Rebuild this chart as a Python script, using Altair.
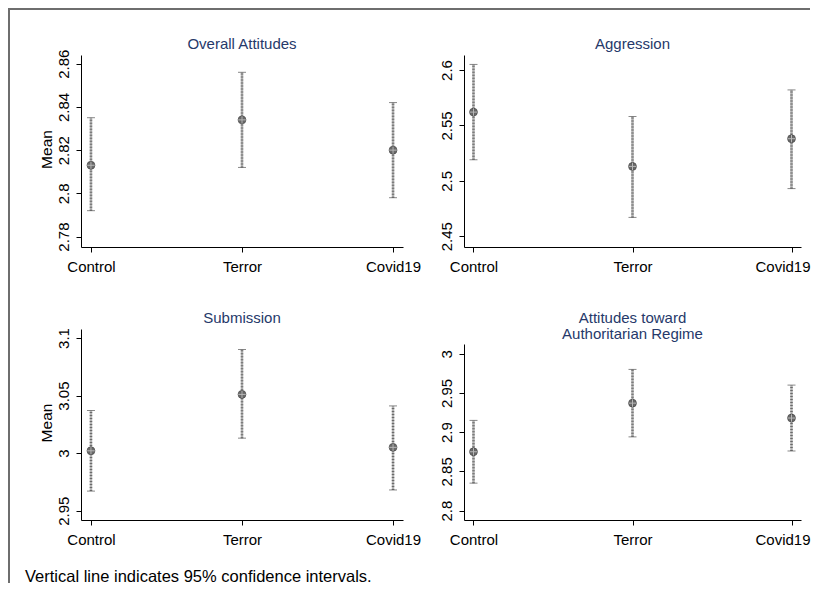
import altair as alt
import pandas as pd

groups = ["Control", "Terror", "Covid19"]

overall_mean = [2.813, 2.834, 2.820]
overall_lo = [2.792, 2.812, 2.798]
overall_hi = [2.835, 2.856, 2.842]

aggression_mean = [2.562, 2.513, 2.538]
aggression_lo = [2.519, 2.467, 2.493]
aggression_hi = [2.605, 2.558, 2.582]

submission_mean = [3.002, 3.051, 3.005]
submission_lo = [2.967, 3.013, 2.968]
submission_hi = [3.037, 3.090, 3.041]

regime_mean = [2.875, 2.937, 2.918]
regime_lo = [2.835, 2.894, 2.876]
regime_hi = [2.915, 2.980, 2.960]

overall_ticks = [2.78, 2.80, 2.82, 2.84, 2.86]
aggression_ticks = [2.45, 2.50, 2.55, 2.60]
submission_ticks = [2.95, 3.00, 3.05, 3.10]
regime_ticks = [2.80, 2.85, 2.90, 2.95, 3.00]

overall_domain = [2.7752, 2.864]
aggression_domain = [2.4403, 2.6135]
submission_domain = [2.9419, 3.1078]
regime_domain = [2.788, 3.0124]

title_overall = ["Overall Attitudes"]
title_aggression = ["Aggression"]
title_submission = ["Submission"]
title_regime = ["Attitudes toward", "Authoritarian Regime"]
note_text = "Vertical line indicates 95% confidence intervals."

FONT = "Liberation Sans"
TITLE_COLOR = "#26396a"
blank = alt.Data(values=[{}])


def title_marks(lines, width, first_y):
    marks = []
    for i, line in enumerate(lines):
        marks.append(
            alt.Chart(blank).mark_text(
                align="center", baseline="middle", fontSize=15, font=FONT,
                color=TITLE_COLOR,
            ).encode(x=alt.value(width / 2), y=alt.value(first_y + 16 * i),
                     text=alt.value(line))
        )
    return marks


def panel(title, mean, lo, hi, ticks, ydomain, width, height, xpad,
          ytitle=None, yrange=None, title_y=-11, last_label_shift=0,
          extra=()):
    df = pd.DataFrame({"group": groups, "mean": mean, "lo": lo, "hi": hi})
    xaxis_kw = dict(labelAngle=0, labelPadding=7, labelBaseline="top")
    if last_label_shift:
        xaxis_kw["labelOffset"] = {
            "condition": {"test": f"datum.value === '{groups[-1]}'",
                          "value": last_label_shift},
            "value": 0,
        }
    xenc = alt.X(
        "group:N",
        sort=groups,
        title=None,
        scale=alt.Scale(type="point", padding=xpad, domain=groups),
        axis=alt.Axis(**xaxis_kw),
    )
    sc = dict(domain=ydomain, nice=False, zero=False)
    if yrange is not None:
        sc["range"] = yrange
    axis_kw = dict(
        values=ticks,
        format="~f",
        labelAngle=270,
        labelAlign="center",
        labelBaseline="bottom",
        labelPadding=5,
        labelOverlap=False,
    )
    if ytitle:
        axis_kw.update(titleAngle=270, titleX=-34.5, titleY=height / 2 - 2,
                       titleBaseline="middle", titleAlign="center",
                       titleFontSize=15.5)
    yaxis = alt.Axis(**axis_kw)
    yscale = alt.Scale(**sc)

    def Y(field):
        return alt.Y(field, scale=yscale, axis=yaxis, title=ytitle)

    base = alt.Chart(df)
    bar_light = base.mark_rule(color="#b4b4b4", strokeWidth=2.5).encode(
        x=xenc, y=Y("lo:Q"), y2="hi:Q")
    bar_dark = base.mark_rule(color="#6a6a6a", strokeWidth=2.5,
                              strokeDash=[1, 2]).encode(
        x=xenc, y=Y("lo:Q"), y2="hi:Q")
    cap_lo = base.mark_tick(color="#555555", size=8, thickness=1).encode(
        x=xenc, y=Y("lo:Q"))
    cap_hi = base.mark_tick(color="#555555", size=8, thickness=1).encode(
        x=xenc, y=Y("hi:Q"))
    dot = base.mark_point(shape="circle", filled=True, size=62,
                          color="#5c5c5c", opacity=0.9, stroke="#363636",
                          strokeWidth=0.7).encode(x=xenc, y=Y("mean:Q"))
    cross = base.mark_point(shape="M-1,0H1M0,-1V1", filled=False, size=55,
                            color="#b8b8b8", strokeWidth=1,
                            opacity=1).encode(x=xenc, y=Y("mean:Q"))
    layers = ([bar_light, bar_dark, cap_lo, cap_hi, dot, cross]
              + title_marks(title, width, title_y) + list(extra))
    return alt.layer(*layers).properties(width=width, height=height)


frame_v = alt.Chart(blank).mark_rect(color="#6e6e6e").encode(
    x=alt.value(-73), x2=alt.value(-71), y=alt.value(-47), y2=alt.value(528))
frame_h = alt.Chart(blank).mark_rect(color="#6e6e6e").encode(
    x=alt.value(-73), x2=alt.value(729), y=alt.value(-47), y2=alt.value(-45))
note = alt.Chart(blank).mark_text(
    align="left", baseline="alphabetic", fontSize=16.5, font=FONT,
    color="black").encode(x=alt.value(-56), y=alt.value(253),
                          text=alt.value(note_text))

p1 = panel(title_overall, overall_mean, overall_lo, overall_hi, overall_ticks,
           overall_domain, 322, 192, 0.066, ytitle="Mean",
           extra=[frame_v, frame_h])
p2 = panel(title_aggression, aggression_mean, aggression_lo, aggression_hi,
           aggression_ticks, aggression_domain, 337, 192, 0.0597,
           last_label_shift=-9)
p3 = panel(title_submission, submission_mean, submission_lo, submission_hi,
           submission_ticks, submission_domain, 322, 191, 0.066,
           ytitle="Mean", extra=[note])
p4 = panel(title_regime, regime_mean, regime_lo, regime_hi, regime_ticks,
           regime_domain, 337, 191, 0.0597, yrange=[191, 15], title_y=-11,
           last_label_shift=-9)

chart = alt.concat(
    p1, p2, p3, p4, columns=2, bounds="flush",
    spacing={"row": 82, "column": 61},
).properties(padding=0).configure(font=FONT).configure_view(
    strokeWidth=0
).configure_axis(
    grid=False, domainColor="black", tickColor="black", labelColor="black",
    titleColor="black", labelFontSize=15, labelFont=FONT, titleFont=FONT,
    titleFontWeight="normal", tickSize=5, domainWidth=1, tickWidth=1,
)

chart.save("out.html", embed_options={"renderer": "svg", "actions": False})
